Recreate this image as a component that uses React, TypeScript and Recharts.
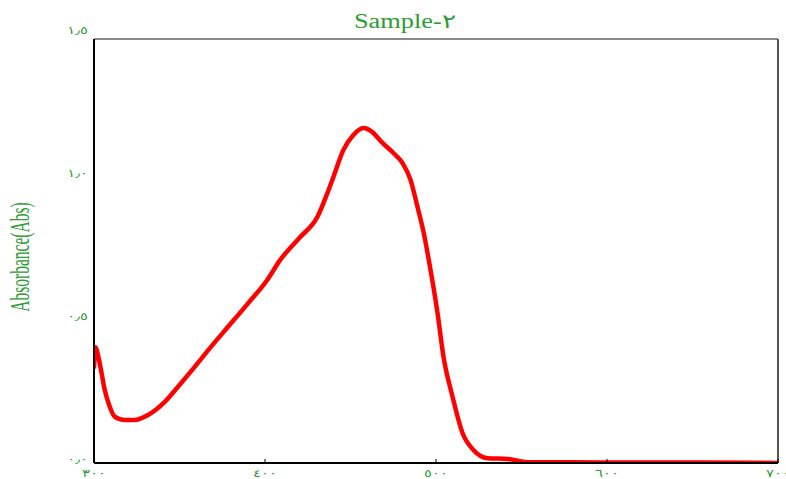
import React from 'react';
import { LineChart, Line, XAxis, YAxis, ReferenceLine } from 'recharts';

const wavelengths = [300, 301, 302.3, 304.1, 306.3, 309.2, 312.1, 318, 323.8, 331.6, 341.4, 351, 359, 368.5, 378.5, 390.2, 401.3, 408.9, 420.6, 430.6, 436.5, 440, 445.8, 451.7, 457.6, 462.8, 468.7, 475.1, 480.4, 485.1, 489.2, 492.7, 496.8, 500.9, 504.4, 509.7, 515.5, 522, 530.2, 541.9, 553.6, 563, 596.3, 654.9, 687.1, 700];
const absorbance = [0.33, 0.405, 0.378, 0.325, 0.255, 0.197, 0.162, 0.15, 0.15, 0.168, 0.214, 0.28, 0.337, 0.407, 0.477, 0.559, 0.64, 0.71, 0.79, 0.86, 0.944, 1.0, 1.094, 1.147, 1.171, 1.157, 1.119, 1.084, 1.049, 0.99, 0.895, 0.808, 0.675, 0.524, 0.371, 0.231, 0.105, 0.045, 0.017, 0.014, 0.003, 0.003, 0.002, 0.002, 0.001, 0];

const xTicks = [300, 400, 500, 600, 700];
const xTickLabels = ['٣٠٠', '٤٠٠', '٥٠٠', '٦٠٠', '٧٠٠'];
const yTicks = [0, 0.5, 1.0, 1.5];
const yTickLabels = ['٠٫٠', '٠٫٥', '١٫٠', '١٫٥'];

const titleText = 'Sample-٢';
const yAxisTitle = 'Absorbance(Abs)';

const data = wavelengths.map((w, i) => ({ w, a: absorbance[i] }));

const GREEN = '#2e9b35';

const XTick = (props: any) => {
  const { x, y, payload } = props;
  const idx = xTicks.indexOf(payload.value);
  return (
    <text
      transform={`translate(${x},${y + 8.5}) scale(1.35,1)`}
      textAnchor="middle"
      fontFamily="DejaVu Sans"
      fontSize={11}
      fill={GREEN}
    >
      {idx >= 0 ? xTickLabels[idx] : ''}
    </text>
  );
};

const YTick = (props: any) => {
  const { x, y, payload } = props;
  const idx = yTicks.indexOf(payload.value);
  return (
    <text
      transform={`translate(${x},${y}) scale(1.35,1)`}
      textAnchor="end"
      fontFamily="DejaVu Sans"
      fontSize={11}
      fill={GREEN}
    >
      {idx >= 0 ? yTickLabels[idx] : ''}
    </text>
  );
};

export default function App() {
  return (
    <div style={{ position: 'absolute', left: 0, top: 0, width: 786, height: 479, background: '#fff' }}>
      <LineChart width={786} height={479} data={data} margin={{ top: 39, right: 8, left: 0, bottom: 0 }}>
        <XAxis
          dataKey="w"
          type="number"
          domain={[300, 700]}
          ticks={xTicks}
          interval={0}
          allowDataOverflow
          height={16}
          tickSize={-4}
          tickMargin={9}
          axisLine={{ stroke: '#000', strokeWidth: 2 }}
          tickLine={{ stroke: '#000', strokeWidth: 1 }}
          tick={<XTick />}
        />
        <YAxis
          type="number"
          domain={[0, 1.4825]}
          ticks={yTicks}
          interval={0}
          allowDataOverflow
          width={94}
          tickSize={0}
          tickMargin={6}
          axisLine={{ stroke: '#000', strokeWidth: 2 }}
          tickLine={false}
          tick={<YTick />}
        />
        <ReferenceLine y={1.4825} stroke="#8a8a8a" strokeWidth={2} ifOverflow="visible" />
        <ReferenceLine x={700} stroke="#555" strokeWidth={2} ifOverflow="visible" />
        <Line
          type="monotone"
          dataKey="a"
          stroke="#ff0000"
          strokeWidth={4.5}
          dot={false}
          isAnimationActive={false}
        />
        <text
          transform="translate(405,28) scale(1.32,1)"
          textAnchor="middle"
          fontFamily="Liberation Serif, DejaVu Sans"
          fontSize={20}
          fill={GREEN}
        >
          {titleText}
        </text>
        <text
          transform="translate(28.5,257) rotate(-90) scale(1,1.7)"
          textAnchor="middle"
          fontFamily="Liberation Serif"
          fontSize={15.5}
          fill={GREEN}
        >
          {yAxisTitle}
        </text>
      </LineChart>
    </div>
  );
}
